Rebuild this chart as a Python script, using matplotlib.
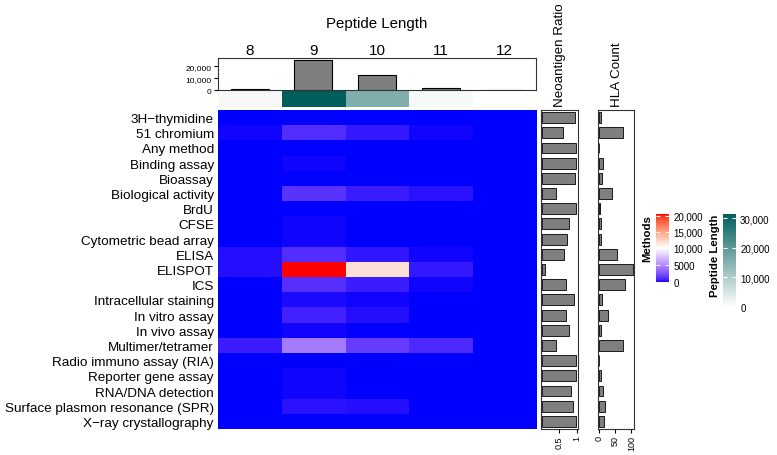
import numpy as np
import matplotlib
matplotlib.use('Agg')
import matplotlib.pyplot as plt
from matplotlib.colors import ListedColormap, LinearSegmentedColormap, TwoSlopeNorm, Normalize
from matplotlib.cm import ScalarMappable
from matplotlib.ticker import FuncFormatter

plt.rcParams['font.family'] = ['Liberation Sans', 'DejaVu Sans']

methods = ['3H\u2212thymidine', '51 chromium', 'Any method', 'Binding assay', 'Bioassay',
           'Biological activity', 'BrdU', 'CFSE', 'Cytometric bead array', 'ELISA',
           'ELISPOT', 'ICS', 'Intracellular staining', 'In vitro assay', 'In vivo assay',
           'Multimer/tetramer', 'Radio immuno assay (RIA)', 'Reporter gene assay',
           'RNA/DNA detection', 'Surface plasmon resonance (SPR)', 'X\u2212ray crystallography']
lengths = ['8', '9', '10', '11', '12']

# counts per method (rows) and peptide length (columns 8..12)
counts = np.array([
    [10, 30, 10, 5, 0],
    [120, 1100, 500, 150, 0],
    [10, 20, 10, 5, 0],
    [20, 150, 40, 10, 0],
    [10, 30, 10, 5, 0],
    [40, 1300, 600, 350, 0],
    [5, 20, 5, 0, 0],
    [20, 90, 40, 10, 0],
    [20, 80, 30, 10, 0],
    [280, 1100, 450, 100, 0],
    [280, 20500, 11600, 500, 0],
    [30, 1200, 550, 120, 0],
    [30, 220, 80, 10, 0],
    [50, 750, 300, 50, 0],
    [20, 100, 40, 10, 0],
    [550, 4300, 1700, 1000, 0],
    [5, 20, 5, 0, 0],
    [20, 80, 30, 10, 0],
    [30, 120, 50, 10, 0],
    [50, 350, 250, 40, 0],
    [10, 70, 20, 5, 0],
])

pep_bar = [800, 25000, 12500, 2000, 100]
pep_annot = [1000, 31500, 15700, 1200, 0]

neo_ratio = [0.95, 0.60, 0.98, 0.98, 0.95, 0.41, 0.98, 0.77, 0.71, 0.64, 0.10,
             0.69, 0.92, 0.70, 0.77, 0.40, 0.98, 0.98, 0.84, 0.89, 0.98]
hla_count = [6, 73, 1, 14, 10, 41, 4, 8, 7, 57, 105, 79, 11, 30, 8, 75, 0, 6, 14, 18, 15]


# the methods gradient is interpolated in Lab space (ggplot style)
M = np.array([[0.4124, 0.3576, 0.1805], [0.2126, 0.7152, 0.0722], [0.0193, 0.1192, 0.9505]])
WP = np.array([0.95047, 1.0, 1.08883])


def to_lab(rgb):
    c = np.array(rgb, float)
    c = np.where(c > 0.04045, ((c + 0.055) / 1.055) ** 2.4, c / 12.92)
    xyz = M @ c / WP
    f = np.where(xyz > 0.008856, np.cbrt(xyz), 7.787 * xyz + 16 / 116)
    return np.array([116 * f[1] - 16, 500 * (f[0] - f[1]), 200 * (f[1] - f[2])])


def to_rgb(lab):
    fy = (lab[0] + 16) / 116
    f = np.array([fy + lab[1] / 500, fy, fy - lab[2] / 200])
    xyz = np.where(f ** 3 > 0.008856, f ** 3, (f - 16 / 116) / 7.787) * WP
    c = np.clip(np.linalg.solve(M, xyz), 0, 1)
    c = np.where(c > 0.0031308, 1.055 * c ** (1 / 2.4) - 0.055, 12.92 * c)
    return np.clip(c, 0, 1)


def lab_cmap(cols, n=256):
    labs = [to_lab(c) for c in cols]
    out = []
    for t in np.linspace(0, 1, n):
        seg = min(int(t * (len(labs) - 1)), len(labs) - 2)
        s = t * (len(labs) - 1) - seg
        out.append(to_rgb(labs[seg] * (1 - s) + labs[seg + 1] * s))
    return ListedColormap(out)


cmap_methods = lab_cmap([(0, 0, 1), (1, 1, 1), (1, 0, 0)])
cmap_pep = LinearSegmentedColormap.from_list('pep', ['#ffffff', '#005e5b'])
norm_methods = TwoSlopeNorm(vcenter=10000, vmin=0, vmax=20500)
norm_pep = Normalize(0, 31500)

W, H = 777, 456
fig = plt.figure(figsize=(W / 100, H / 100), dpi=100)


def px_axes(x0, y0, x1, y1):
    return fig.add_axes([x0 / W, 1 - y1 / H, (x1 - x0) / W, (y1 - y0) / H])


comma = FuncFormatter(lambda v, p: f'{int(v):,}' if v >= 10000 else f'{int(v)}')

# --- heatmap ---
ax = px_axes(218, 111, 537, 430)
ax.imshow(counts, cmap=cmap_methods, norm=norm_methods, aspect='auto', interpolation='nearest')
ax.set_yticks(range(len(methods)))
ax.set_yticklabels(methods, fontsize=9.7)
ax.set_xticks([])
ax.tick_params(axis='y', length=0, pad=3)
for s in ax.spines.values():
    s.set_visible(False)

# --- annotation strip ---
ax_an = px_axes(218, 92, 537, 108)
ann = np.array([pep_annot], float)
colors = cmap_pep(norm_pep(ann))
colors[0, 4] = (1, 1, 1, 1)
ax_an.imshow(colors, aspect='auto', interpolation='nearest')
ax_an.axis('off')

# --- top bar chart ---
ax_top = px_axes(218, 59, 536, 91)
ax_top.bar(range(5), pep_bar, width=0.6, color='#7f7f7f', edgecolor='black', linewidth=0.8)
ax_top.set_xlim(-0.5, 4.5)
ax_top.set_ylim(0, 26800)
ax_top.set_yticks([0, 10000, 20000])
ax_top.yaxis.set_major_formatter(comma)
ax_top.tick_params(axis='y', labelsize=6, length=3, pad=1.5)
ax_top.set_xticks(range(5))
ax_top.set_xticklabels(lengths, fontsize=11)
ax_top.tick_params(axis='x', length=0, top=False, bottom=False, labeltop=True, labelbottom=False, pad=1)
for s in ax_top.spines.values():
    s.set_color('#333333')
    s.set_linewidth(0.8)
fig.text(377 / W, 1 - 24 / H, 'Peptide Length', ha='center', va='center', fontsize=10.8)

# --- right bar panels ---
ypos = np.arange(len(methods))
ax_neo = px_axes(541, 111, 578, 430)
ax_neo.barh(ypos, neo_ratio, height=0.72, color='#7f7f7f', edgecolor='black', linewidth=0.6)
ax_neo.set_ylim(len(methods) - 0.5, -0.5)
ax_neo.set_xlim(-0.03, 1.04)
ax_neo.set_xticks([0.5, 1])
ax_neo.set_xticklabels(['0.5', '1'], rotation=90, fontsize=6.5)
ax_neo.set_yticks([])
ax_neo.tick_params(axis='x', length=3, pad=1.5)

ax_hla = px_axes(598, 111, 634, 430)
ax_hla.barh(ypos, hla_count, height=0.72, color='#7f7f7f', edgecolor='black', linewidth=0.6)
ax_hla.set_ylim(len(methods) - 0.5, -0.5)
ax_hla.set_xlim(-2, 108)
ax_hla.set_xticks([0, 50, 100])
ax_hla.set_xticklabels(['0', '50', '100'], rotation=90, fontsize=6.5)
ax_hla.set_yticks([])
ax_hla.tick_params(axis='x', length=3, pad=1.5)

for a in (ax_neo, ax_hla):
    for s in a.spines.values():
        s.set_color('#333333')
        s.set_linewidth(0.8)

fig.text(560 / W, 1 - 107 / H, 'Neoantigen Ratio', rotation=90, ha='center', va='bottom', fontsize=9.6)
fig.text(617 / W, 1 - 107 / H, 'HLA Count', rotation=90, ha='center', va='bottom', fontsize=9.6)

# --- colour legends ---
cax1 = px_axes(656, 215, 669, 283)
cb1 = fig.colorbar(ScalarMappable(norm=norm_methods, cmap=cmap_methods), cax=cax1)
cb1.set_ticks([0, 5000, 10000, 15000, 20000])
cb1.ax.yaxis.set_major_formatter(comma)
cb1.outline.set_visible(False)
cax1.tick_params(axis='y', direction='in', color='white', length=3, width=0.8,
                 left=True, right=True, labelsize=7, pad=3)
fig.text(647 / W, 1 - 215 / H, 'Methods', rotation=90, ha='center', va='top',
         fontsize=8.2, fontweight='bold')

cax2 = px_axes(723, 215, 736, 308)
cb2 = fig.colorbar(ScalarMappable(norm=norm_pep, cmap=cmap_pep), cax=cax2)
cb2.set_ticks([0, 10000, 20000, 30000])
cb2.ax.yaxis.set_major_formatter(comma)
cb2.outline.set_visible(False)
cax2.tick_params(axis='y', direction='in', color='white', length=3, width=0.8,
                 left=True, right=True, labelsize=7, pad=3)
fig.text(715 / W, 1 - 215 / H, 'Peptide Length', rotation=90, ha='center', va='top',
         fontsize=8.2, fontweight='bold')

plt.savefig('out.png', dpi=100)
